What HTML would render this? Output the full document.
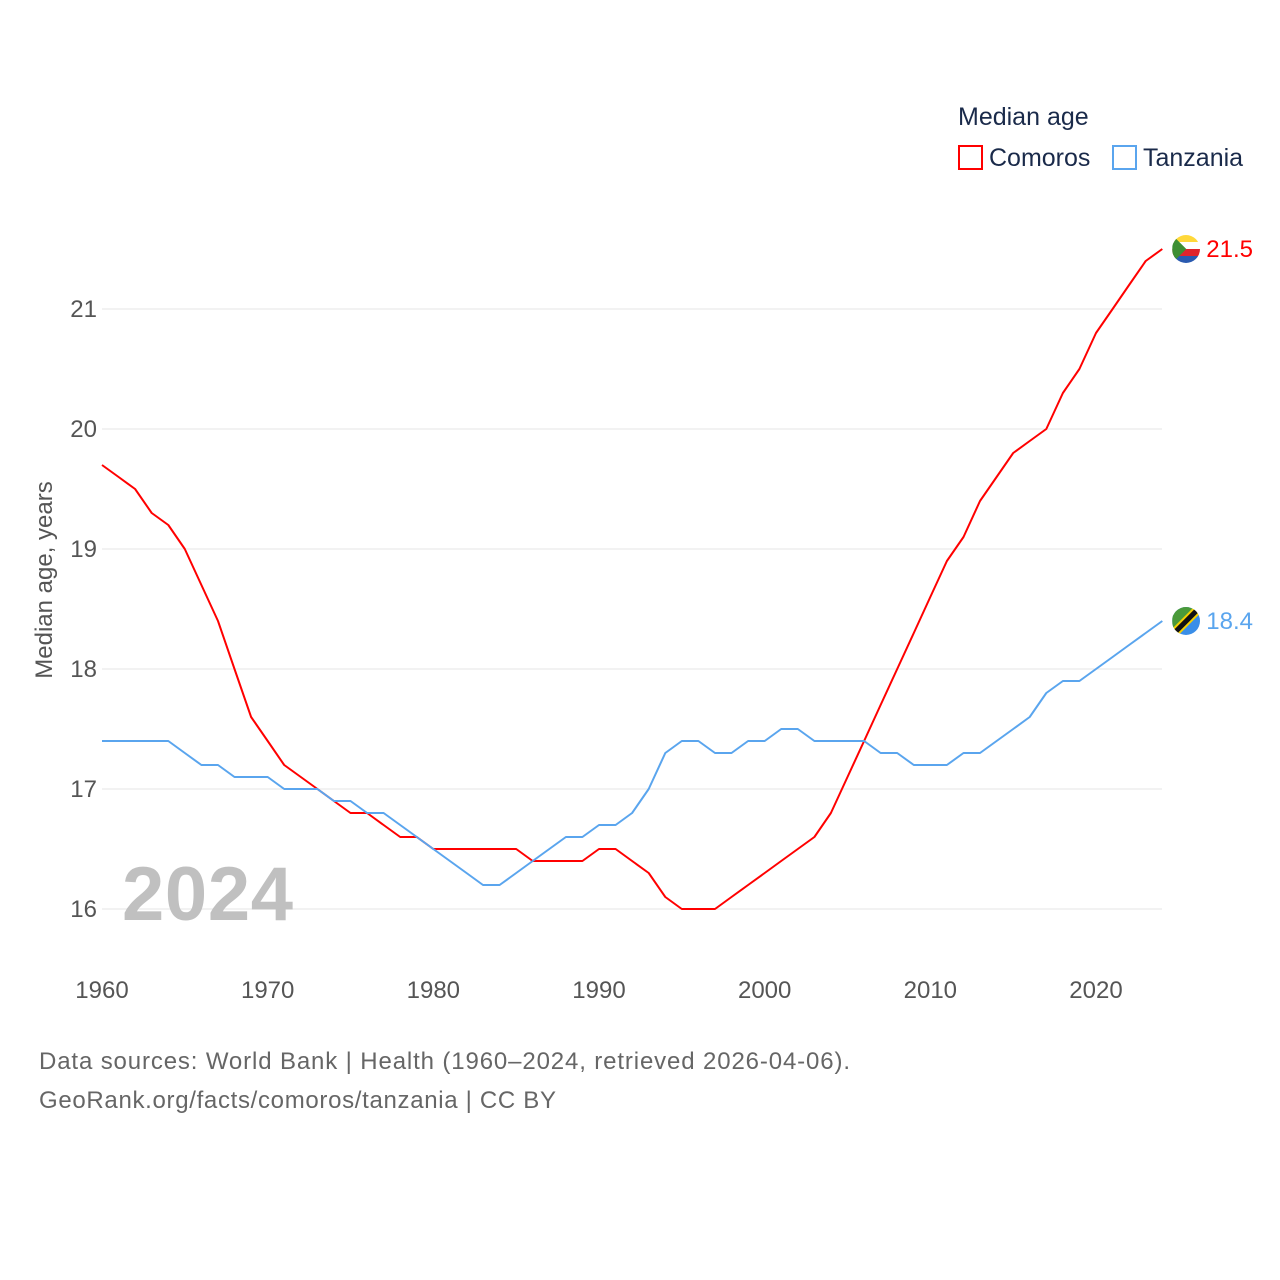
<!DOCTYPE html>
<html><head><meta charset="utf-8">
<style>
html,body{margin:0;padding:0;background:#fff;}
svg{display:block;font-family:"Liberation Sans",sans-serif;}
</style></head>
<body>
<svg id="chart" width="1280" height="1280" viewBox="0 0 1280 1280">
  <defs>
    <clipPath id="clipC"><circle cx="1186" cy="249" r="14"/></clipPath>
    <clipPath id="clipT"><circle cx="1186" cy="621" r="14"/></clipPath>
  </defs>
  <g id="grid"></g>
  <g id="yticks"></g>
  <g id="xticks"></g>
  <text x="52" y="580" transform="rotate(-90 52 580)" text-anchor="middle" font-size="24" fill="#555">Median age, years</text>
  <text x="122" y="920" font-size="76" font-weight="bold" fill="#c0c0c0" textLength="171">2024</text>
  <g id="series"></g>
  <g>
    <text x="958" y="125" font-size="25" fill="#1a2a4a">Median age</text>
    <g>
      <rect x="959" y="146" width="23" height="23" fill="none" stroke="#ff0000" stroke-width="2"/>
      <text x="989" y="166" font-size="25" fill="#1a2a4a">Comoros</text>
    </g>
    <g>
      <rect x="1113" y="146" width="23" height="23" fill="none" stroke="#5aa5ee" stroke-width="2"/>
      <text x="1143" y="166" font-size="25" fill="#1a2a4a">Tanzania</text>
    </g>
  </g>
  <text x="39" y="1069" font-size="24" fill="#666" textLength="811">Data sources: World Bank | Health (1960–2024, retrieved 2026-04-06).</text>
  <text x="39" y="1108" font-size="24" fill="#666" textLength="517">GeoRank.org/facts/comoros/tanzania | CC BY</text>
</svg>
<script>
const years = [];
for (let y = 1960; y <= 2024; y++) years.push(y);
const comoros = [19.7,19.6,19.5,19.3,19.2,19.0,18.7,18.4,18.0,17.6,17.4,17.2,17.1,17.0,16.9,16.8,16.8,16.7,16.6,16.6,16.5,16.5,16.5,16.5,16.5,16.5,16.4,16.4,16.4,16.4,16.5,16.5,16.4,16.3,16.1,16.0,16.0,16.0,16.1,16.2,16.3,16.4,16.5,16.6,16.8,17.1,17.4,17.7,18.0,18.3,18.6,18.9,19.1,19.4,19.6,19.8,19.9,20.0,20.3,20.5,20.8,21.0,21.2,21.4,21.5];
const tanzania = [17.4,17.4,17.4,17.4,17.4,17.3,17.2,17.2,17.1,17.1,17.1,17.0,17.0,17.0,16.9,16.9,16.8,16.8,16.7,16.6,16.5,16.4,16.3,16.2,16.2,16.3,16.4,16.5,16.6,16.6,16.7,16.7,16.8,17.0,17.3,17.4,17.4,17.3,17.3,17.4,17.4,17.5,17.5,17.4,17.4,17.4,17.4,17.3,17.3,17.2,17.2,17.2,17.3,17.3,17.4,17.5,17.6,17.8,17.9,17.9,18.0,18.1,18.2,18.3,18.4];
const yTicks = [16,17,18,19,20,21];
const xTicks = [1960,1970,1980,1990,2000,2010,2020];

const NS = "http://www.w3.org/2000/svg";
const X = yr => 102 + (yr - 1960) * (1096 - 102) / 60;
const Y = v => 909 - (v - 16) * 120;
function mk(tag, attrs, parent){const e=document.createElementNS(NS,tag);for(const k in attrs)e.setAttribute(k,attrs[k]);parent.appendChild(e);return e;}

const grid=document.getElementById('grid'), yt=document.getElementById('yticks'), xt=document.getElementById('xticks'), ser=document.getElementById('series');
yTicks.forEach(v=>{
  const l=mk('line',{x1:102,x2:1162,y1:Y(v),y2:Y(v),stroke:'#e6e6e6','stroke-width':1},grid);
  
  
  const t=mk('text',{x:97,y:Y(v)+8,'text-anchor':'end','font-size':24,fill:'#555'},yt);
  t.textContent=v;
  
  
});
xTicks.forEach(v=>{
  const t=mk('text',{x:X(v),y:998,'text-anchor':'middle','font-size':24,fill:'#555'},xt);
  t.textContent=v;
  
  
});
function line(vals,color,name,flag){
  const d=vals.map((v,i)=>(i?'L':'M')+X(years[i]).toFixed(1)+' '+Y(v).toFixed(1)).join(' ');
  const p=mk('path',{d:d,fill:'none',stroke:color,'stroke-width':2,'stroke-linejoin':'round'},ser);
  
  
  const last=vals[vals.length-1], lx=X(years[years.length-1]), ly=Y(last);
  const g=mk('g',{},ser);
  
  
  flag(g, lx+24, ly);
  const t=mk('text',{x:lx+44,y:ly+8,'font-size':24,fill:color},ser);
  t.textContent=last.toFixed(1);
  
  
}
function comorosFlag(g,cx,cy){
  const c=mk('g',{'clip-path':'url(#clipC)'},g);
  mk('rect',{x:cx-14,y:cy-14,width:28,height:7,fill:'#ffd83a'},c);
  mk('rect',{x:cx-14,y:cy-7,width:28,height:7,fill:'#ffffff'},c);
  mk('rect',{x:cx-14,y:cy,width:28,height:7,fill:'#e0242c'},c);
  mk('rect',{x:cx-14,y:cy+7,width:28,height:7,fill:'#2a5ab0'},c);
  mk('path',{d:`M${cx-14} ${cy-14} L${cx} ${cy} L${cx-14} ${cy+14} Z`,fill:'#3d8e33'},c);
}
function tzFlag(g,cx,cy){
  const c=mk('g',{'clip-path':'url(#clipT)'},g);
  mk('rect',{x:cx-14,y:cy-14,width:28,height:28,fill:'#3a8ee8'},c);
  mk('path',{d:`M${cx-14} ${cy-14} L${cx+14} ${cy-14} L${cx-14} ${cy+14} Z`,fill:'#4a9a3a'},c);
  mk('line',{x1:cx-16,y1:cy+16,x2:cx+16,y2:cy-16,stroke:'#f5d000','stroke-width':9},c);
  mk('line',{x1:cx-16,y1:cy+16,x2:cx+16,y2:cy-16,stroke:'#111','stroke-width':5},c);
}
line(comoros,'#ff0000','comoros',comorosFlag);
line(tanzania,'#5aa5ee','tanzania',tzFlag);
</script>
</body></html>
